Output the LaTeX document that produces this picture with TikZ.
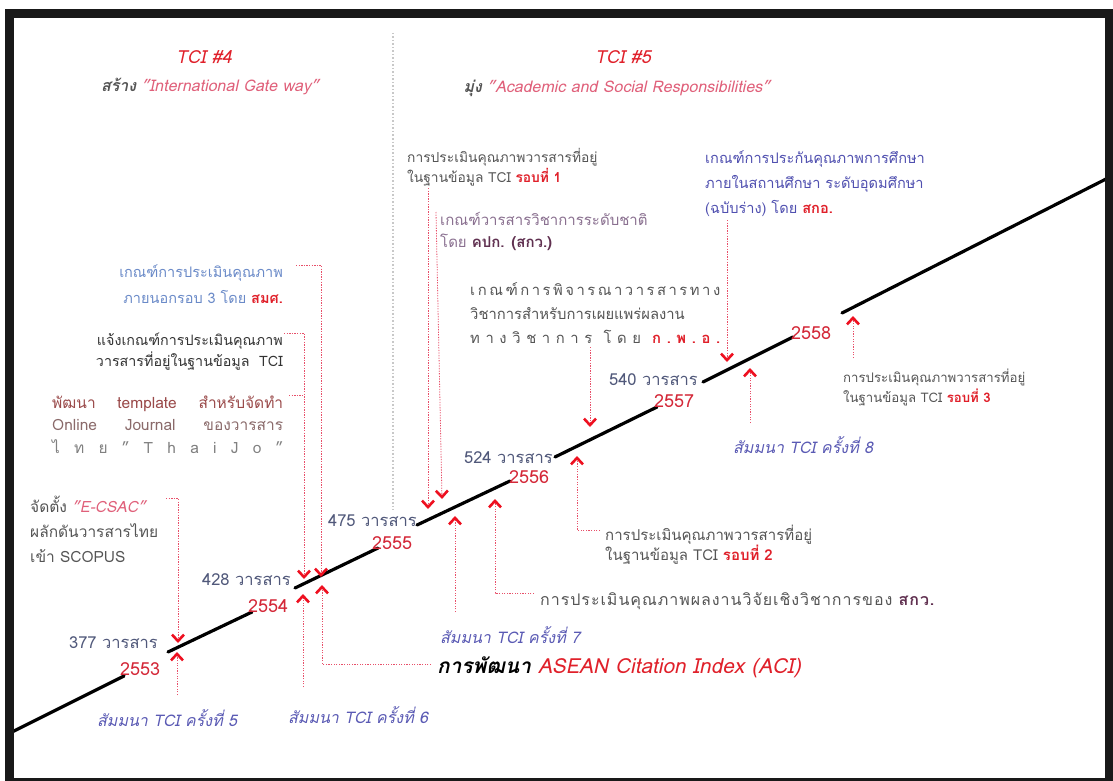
\documentclass[tikz,border=0pt]{standalone}
\usepackage{fontspec}
\setmainfont[Script=Thai]{Loma}
\usetikzlibrary{arrows.meta}
\definecolor{tred}{HTML}{E0202A}
\definecolor{yred}{HTML}{D42838}
\definecolor{cred}{HTML}{E8506A}
\definecolor{ared}{HTML}{EE1020}
\definecolor{pinkq}{HTML}{E0607A}
\definecolor{numc}{HTML}{50587A}
\definecolor{semc}{HTML}{5A5AB4}
\definecolor{grayt}{HTML}{555555}
\definecolor{lblue}{HTML}{6A8AC8}
\definecolor{brownt}{HTML}{9A4A4A}
\definecolor{brownl}{HTML}{8A6A6A}
\definecolor{mauve}{HTML}{8A7090}
\definecolor{mauved}{HTML}{603050}
\definecolor{purpb}{HTML}{5050B0}
\definecolor{divg}{HTML}{C8C8C8}
\begin{document}
\begin{tikzpicture}[x=1pt,y=-1pt,
  seg/.style={line width=3.2pt,line cap=round,black},
  conn/.style={draw=cred,line width=0.8pt,dash pattern=on 1.3pt off 1.3pt},
  tipd/.style={conn,-{Straight Barb[length=6.5pt,width=12pt,line width=2.6pt,color=ared]}},
  txt/.style 2 args={inner sep=0pt,font=\fontsize{#1}{#2}\selectfont},
  numl/.style={inner sep=0pt,text=numc,font=\fontsize{16.5}{18}\selectfont},
  yearl/.style={inner sep=0pt,text=yred,font=\fontsize{18}{20}\selectfont},
  seml/.style={inner sep=0pt,text=semc,font=\fontsize{16}{18}\selectfont\itshape},
  head/.style={inner sep=0pt,text=tred,font=\fontsize{18}{20}\selectfont\itshape},
  subh/.style={inner sep=0pt,font=\fontsize{16}{18}\selectfont\itshape}]
\useasboundingbox (0,0) rectangle (1113,781);
\fill[white] (0,0) rectangle (1113,781);

% divider
\coordinate (dvA) at (393,33);
\coordinate (dvB) at (393,510);
\draw[divg,line width=1.3pt,dash pattern=on 1.5pt off 2pt] (dvA) -- (dvB);

% headers
\node[head] (h4) at (204,57) {TCI \#4};
\node[subh] (h4s) at (210,86) {{\color{grayt}\bfseries สร้าง} {\color{pinkq}"International Gate way"}};
\node[head] (h5) at (623,57) {TCI \#5};
\node[subh] (h5s) at (617,88) {{\color{grayt}\bfseries มุ่ง} {\color{pinkq}"Academic and Social Responsibilities"}};

% timeline segments
\coordinate (s1a) at (12,732); \coordinate (s1b) at (124,676);
\coordinate (s2a) at (168,652); \coordinate (s2b) at (252,612);
\coordinate (s3a) at (295,588); \coordinate (s3b) at (378,548);
\coordinate (s4a) at (417,525); \coordinate (s4b) at (510,481);
\coordinate (s5a) at (555,457); \coordinate (s5b) at (657,407);
\coordinate (s6a) at (703,382); \coordinate (s6b) at (793,337);
\coordinate (s7a) at (842,313); \coordinate (s7b) at (1108,178);
\draw[seg] (s1a) -- (s1b);
\draw[seg] (s2a) -- (s2b);
\draw[seg] (s3a) -- (s3b);
\draw[seg] (s4a) -- (s4b);
\draw[seg] (s5a) -- (s5b);
\draw[seg] (s6a) -- (s6b);
\draw[seg] (s7a) -- (s7b);

% counts and years
\node[numl,anchor=east] (n377) at (158,643) {377 วารสาร};
\node[yearl,anchor=west] (y53) at (120,669) {2553};
\node[numl,anchor=east] (n428) at (291,580) {428 วารสาร};
\node[yearl,anchor=west] (y54) at (248,606) {2554};
\node[numl,anchor=east] (n475) at (417,521) {475 วารสาร};
\node[yearl,anchor=west] (y55) at (372,543) {2555};
\node[numl,anchor=east] (n524) at (553,458) {524 วารสาร};
\node[yearl,anchor=west] (y56) at (509,477) {2556};
\node[numl,anchor=east] (n540) at (698,380) {540 วารสาร};
\node[yearl,anchor=west] (y57) at (654,401) {2557};
\node[yearl,anchor=west] (y58) at (791,333) {2558};

% text blocks (anchor = baseline of the last line)
\node[txt={15.5}{25},anchor=base west,align=left,text=grayt] (ecsac) at (30,562)
  {จัดตั้ง {\color{pinkq}\itshape "E-CSAC"}\\ผลักดันวารสารไทย\\เข้า SCOPUS};
\node[txt={15.5}{22.5},anchor=base west,align=left,text=brownl] (tmpl) at (52,453)
  {\makebox[231pt][s]{\color{brownt}พัฒนา template สำหรับจัดทำ}\\
   \makebox[231pt][s]{Online Journal ของวารสาร}\\
   \makebox[231pt]{\color{gray}ไ\hfill ท\hfill ย\hfill "\hfill T\hfill h\hfill a\hfill i\hfill J\hfill o\hfill "}};
\node[txt={14.3}{21},anchor=base east,align=right,text=black!80] (inform) at (283,366)
  {แจ้งเกณฑ์การประเมินคุณภาพ\\วารสารที่อยู่ในฐานข้อมูล\ \ TCI};
\node[txt={14.5}{26},anchor=base east,align=right,text=lblue] (smos) at (283,303)
  {เกณฑ์การประเมินคุณภาพ\\ภายนอกรอบ 3 โดย {\bfseries\color{tred}สมศ.}};
\node[txt={13.8}{20},anchor=base west,align=left,text=grayt] (r1) at (407,182)
  {การประเมินคุณภาพวารสารที่อยู่\\ในฐานข้อมูล TCI {\bfseries\color{tred}รอบที่ 1}};
\node[txt={15}{22},anchor=base west,align=left,text=mauve] (kpk) at (440,247)
  {เกณฑ์วารสารวิชาการระดับชาติ\\โดย {\bfseries\color{mauved}คปก. (สกว.)}};
\node[txt={14.8}{24},anchor=base west,align=left,text=grayt] (kpa) at (470,343)
  {\makebox[250pt]{เ\hfill ก\hfill ณ\hfill ฑ์\hfill ก\hfill า\hfill ร\hfill พิ\hfill จ\hfill า\hfill ร\hfill ณ\hfill า\hfill ว\hfill า\hfill ร\hfill ส\hfill า\hfill ร\hfill ท\hfill า\hfill ง}\\
   \makebox[250pt][s]{วิชาการสำหรับการเผยแพร่ผลงาน}\\
   \makebox[250pt]{ท\hfill า\hfill ง\hfill วิ\hfill ช\hfill า\hfill ก\hfill า\hfill ร\hfill\hfill โ\hfill ด\hfill ย\hfill\hfill {\bfseries\color{tred}ก\hfill .\hfill พ\hfill .\hfill อ\hfill .}}};
\node[txt={14.6}{25},anchor=base west,align=left,text=purpb] (sko) at (705,213)
  {เกณฑ์การประกันคุณภาพการศึกษา\\ภายในสถานศึกษา ระดับอุดมศึกษา\\(ฉบับร่าง) โดย {\bfseries\color{tred}สกอ.}};
\node[txt={13.2}{20},anchor=base west,align=left,text=grayt] (r3) at (843,402)
  {การประเมินคุณภาพวารสารที่อยู่\\ในฐานข้อมูล TCI {\bfseries\color{tred}รอบที่ 3}};
\node[txt={15}{20},anchor=base west,align=left,text=grayt] (r2) at (605,560)
  {การประเมินคุณภาพวารสารที่อยู่\\ในฐานข้อมูล TCI {\bfseries\color{tred}รอบที่ 2}};
\node[txt={16}{20},anchor=base west,text=grayt] (trf) at (540,605)
  {\addfontfeature{LetterSpace=6}การประเมินคุณภาพผลงานวิจัยเชิงวิชาการของ {\bfseries\color{mauved}สกว.}};
\node[inner sep=0pt,anchor=west,font=\fontsize{20.8}{22}\selectfont\itshape] (aci) at (437,667)
  {{\bfseries การพัฒนา} {\color{tred}ASEAN Citation Index (ACI)}};
\node[seml,anchor=west] (sem5) at (97,718) {สัมมนา TCI ครั้งที่ 5};
\node[seml,anchor=west] (sem6) at (288,715) {สัมมนา TCI ครั้งที่ 6};
\node[seml,anchor=west] (sem7) at (440,635) {สัมมนา TCI ครั้งที่ 7};
\node[seml,anchor=west] (sem8) at (733,445) {สัมมนา TCI ครั้งที่ 8};

% arrow tips on the timeline
\coordinate (d1) at (178,643);
\coordinate (d2) at (304,579);
\coordinate (d3) at (321,577);
\coordinate (d4) at (428,509);
\coordinate (d5) at (442,499);
\coordinate (d6) at (590,427);
\coordinate (d7) at (727,362);
\coordinate (u1) at (177,652);
\coordinate (u2) at (303,594);
\coordinate (u3) at (322,585);
\coordinate (u4) at (455,516);
\coordinate (u5) at (495,499);
\coordinate (u6) at (577,456);
\coordinate (u7) at (750,368);
\coordinate (u8) at (853,316);

% connector bends / ends
\coordinate (cE1) at (166,498); \coordinate (cE2) at (178,498);
\coordinate (cS1) at (296,265); \coordinate (cS2) at (321,265);
\coordinate (cI1) at (284,333); \coordinate (cI2) at (304,333);
\coordinate (cT1) at (289,395); \coordinate (cT2) at (304,395);
\coordinate (cR1) at (428,188);
\coordinate (cK1) at (436,212);
\coordinate (cP1) at (590,347);
\coordinate (cG1) at (727,220);
\coordinate (cs5) at (177,695);
\coordinate (cs6) at (303,687);
\coordinate (cA1) at (431,664); \coordinate (cA2) at (322,664);
\coordinate (cs7) at (455,612);
\coordinate (cW1) at (534,593); \coordinate (cW2) at (495,593);
\coordinate (cR2a) at (600,530); \coordinate (cR2b) at (577,530);
\coordinate (cs8) at (750,423);
\coordinate (cR3) at (853,358);

\draw[tipd] (cE1) -- (cE2) -- (d1);
\draw[tipd] (cS1) -- (cS2) -- (d3);
\draw[tipd] (cI1) -- (cI2) -- (d2);
\draw[conn] (cT1) -- (cT2);
\draw[tipd] (cR1) -- (d4);
\draw[tipd] (cK1) -- (d5);
\draw[tipd] (cP1) -- (d6);
\draw[tipd] (cG1) -- (d7);
\draw[tipd] (cs5) -- (u1);
\draw[tipd] (cs6) -- (u2);
\draw[tipd] (cA1) -- (cA2) -- (u3);
\draw[tipd] (cs7) -- (u4);
\draw[tipd] (cW1) -- (cW2) -- (u5);
\draw[tipd] (cR2a) -- (cR2b) -- (u6);
\draw[tipd] (cs8) -- (u7);
\draw[tipd] (cR3) -- (u8);

% frame
\draw[line width=9pt,black!90] (9.5,13.5) rectangle (1109,782.5);
\end{tikzpicture}
\end{document}
